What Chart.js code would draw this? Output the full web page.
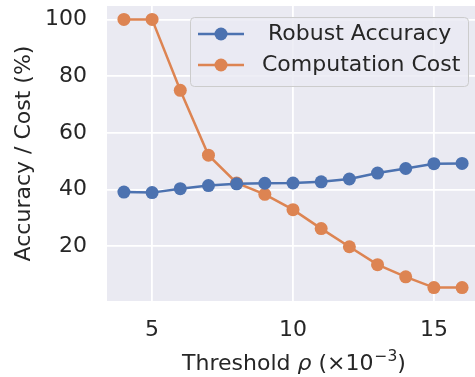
<!DOCTYPE html>
<html>
<head>
<meta charset="utf-8">
<script src="https://cdn.jsdelivr.net/npm/chart.js@4"></script>
<style>
html,body{margin:0;padding:0;background:#fff;overflow:hidden;width:475px;height:377px;}
canvas{display:block;}
</style>
</head>
<body>
<canvas id="c" width="480" height="377"></canvas>
<script>
const thresholds = [4, 5, 6, 7, 8, 9, 10, 11, 12, 13, 14, 15, 16];
const robustAccuracy = [39.1, 38.9, 40.3, 41.4, 42.0, 42.2, 42.3, 42.7, 43.7, 45.8, 47.4, 49.1, 49.2];
const computationCost = [100, 100, 75.0, 52.1, 42.3, 38.3, 32.9, 26.2, 19.8, 13.5, 9.2, 5.4, 5.4];
const xTicks = [5, 10, 15];
const yTicks = [20, 40, 60, 80, 100];
const seriesNames = ['Robust Accuracy', 'Computation Cost'];
const xTitleParts = ['Threshold ', 'ρ', ' (×10', '−3', ')'];
const yTitle = 'Accuracy / Cost (%)';
const colors = ['#4c72b0', '#dd8452'];

const FONT = "'DejaVu Sans', sans-serif";
const textColor = '#262626';

const bgPlugin = {
  id: 'bg',
  beforeDraw(chart) {
    const {ctx, chartArea: a} = chart;
    ctx.save();
    ctx.fillStyle = '#eaeaf2';
    ctx.fillRect(a.left, a.top, a.right - a.left, a.bottom - a.top);
    ctx.restore();
  }
};

const xTitlePlugin = {
  id: 'xTitle',
  afterDraw(chart) {
    const ctx = chart.ctx;
    ctx.save();
    ctx.fillStyle = textColor;
    ctx.textBaseline = 'alphabetic';
    ctx.textAlign = 'left';
    const fonts = ['22px ' + FONT, 'oblique 22px ' + FONT, '22px ' + FONT, '15.5px ' + FONT, '22px ' + FONT];
    const dy = [0, 0, 0, -9, 0];
    const extra = [0, 0, 1, 0, 0];
    let total = 0;
    const widths = xTitleParts.map((t, i) => { ctx.font = fonts[i]; const w = ctx.measureText(t).width + extra[i]; total += w; return w; });
    let x = 294 - total / 2;
    const base = 370;
    xTitleParts.forEach((t, i) => {
      ctx.font = fonts[i];
      ctx.fillText(t, x, base + dy[i]);
      x += widths[i];
    });
    ctx.restore();
  }
};

const legendPlugin = {
  id: 'customLegend',
  afterDraw(chart) {
    const ctx = chart.ctx;
    ctx.save();
    const x0 = 190.5, y0 = 17.5, w = 278, h = 69, r = 4;
    ctx.beginPath();
    ctx.moveTo(x0 + r, y0);
    ctx.lineTo(x0 + w - r, y0);
    ctx.quadraticCurveTo(x0 + w, y0, x0 + w, y0 + r);
    ctx.lineTo(x0 + w, y0 + h - r);
    ctx.quadraticCurveTo(x0 + w, y0 + h, x0 + w - r, y0 + h);
    ctx.lineTo(x0 + r, y0 + h);
    ctx.quadraticCurveTo(x0, y0 + h, x0, y0 + h - r);
    ctx.lineTo(x0, y0 + r);
    ctx.quadraticCurveTo(x0, y0, x0 + r, y0);
    ctx.closePath();
    ctx.fillStyle = 'rgba(234,234,242,0.8)';
    ctx.fill();
    ctx.strokeStyle = '#cccccc';
    ctx.lineWidth = 1;
    ctx.stroke();
    const rows = [34, 65];
    const textX = [268, 262];
    for (let i = 0; i < 2; i++) {
      const y = rows[i];
      ctx.strokeStyle = colors[i];
      ctx.lineWidth = 2.5;
      ctx.beginPath();
      ctx.moveTo(198, y);
      ctx.lineTo(244, y);
      ctx.stroke();
      ctx.fillStyle = colors[i];
      ctx.beginPath();
      ctx.arc(221, y, 6.5, 0, Math.PI * 2);
      ctx.fill();
      ctx.fillStyle = textColor;
      ctx.font = '22px ' + FONT;
      ctx.textBaseline = 'middle';
      ctx.textAlign = 'left';
      ctx.fillText(seriesNames[i], textX[i], y);
    }
    ctx.restore();
  }
};

new Chart(document.getElementById('c'), {
  type: 'line',
  data: {
    labels: thresholds,
    datasets: [
      {
        label: seriesNames[0],
        data: thresholds.map((x, i) => ({x, y: robustAccuracy[i]})),
        borderColor: colors[0],
        backgroundColor: colors[0],
        borderWidth: 2.5,
        pointRadius: 6.5,
        pointHoverRadius: 6.5,
        pointBorderWidth: 0,
        fill: false,
        tension: 0
      },
      {
        label: seriesNames[1],
        data: thresholds.map((x, i) => ({x, y: computationCost[i]})),
        borderColor: colors[1],
        backgroundColor: colors[1],
        borderWidth: 2.5,
        pointRadius: 6.5,
        pointHoverRadius: 6.5,
        pointBorderWidth: 0,
        fill: false,
        tension: 0
      }
    ]
  },
  options: {
    responsive: false,
    animation: false,
    events: [],
    layout: { autoPadding: false, padding: { left: 0, right: 1, top: 6, bottom: 0 } },
    plugins: { legend: { display: false }, tooltip: { enabled: false } },
    scales: {
      x: {
        type: 'linear',
        min: 3.4,
        max: 16.6,
        afterBuildTicks(scale) { scale.ticks = xTicks.map(v => ({value: v})); },
        afterFit(scale) { scale.height = 76; scale.paddingLeft = 0; scale.paddingRight = 0; },
        grid: { color: '#ffffff', lineWidth: 1.8, drawTicks: false },
        border: { display: false },
        ticks: { color: textColor, font: { family: FONT, size: 22 }, padding: 16, maxRotation: 0 },
        title: { display: false }
      },
      y: {
        type: 'linear',
        min: 0.67,
        max: 104.73,
        afterBuildTicks(scale) { scale.ticks = yTicks.map(v => ({value: v})); },
        afterFit(scale) { scale.width = 107; scale.paddingTop = 0; scale.paddingBottom = 0; },
        grid: { color: '#ffffff', lineWidth: 1.8, drawTicks: false },
        border: { display: false },
        ticks: { color: textColor, font: { family: FONT, size: 22 }, padding: 20 },
        title: { display: true, text: yTitle, color: textColor, font: { family: FONT, size: 22 }, padding: { top: 11, bottom: 0 } }
      }
    }
  },
  plugins: [bgPlugin, legendPlugin, xTitlePlugin]
});
</script>
</body>
</html>
